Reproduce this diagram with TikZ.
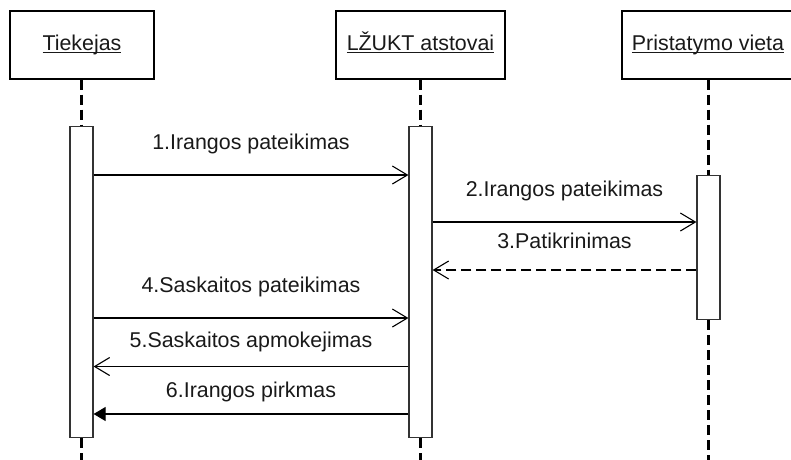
\documentclass[tikz,border=0pt]{standalone}
\usepackage{fontspec}
\setmainfont{Liberation Sans}
\usetikzlibrary{arrows.meta}
% underlined text with a thin rule just below the baseline
\newcommand{\undl}[1]{\setbox0\hbox{#1}\rlap{\rule[-2.4pt]{\wd0}{1.3pt}}\box0}
\begin{document}
\begin{tikzpicture}[x=1pt,y=-1pt,
  font=\fontsize{21.4}{25}\selectfont,
  actor/.style={draw=black,line width=1.2pt,minimum height=68pt,inner sep=0pt,
    text height=15.3pt,text depth=4.5pt,text=black!90},
  activation/.style={draw=black!80,line width=1.2pt,fill=white,minimum width=23pt,inner sep=0pt},
  lifeline/.style={line width=2.6pt,dash pattern=on 10pt off 5pt},
  msg/.style={line width=1.1pt,-{Straight Barb[length=15pt,width=18pt,line width=1.1pt]}},
  reply/.style={msg,dash pattern=on 10pt off 5pt},
  call/.style={line width=1.1pt,-{Triangle[length=12pt,width=14pt]}},
  lbl/.style={anchor=base,inner sep=0pt,text=black!90}]
\useasboundingbox (0,0) rectangle (791,459);
\clip (0,0) rectangle (791,459);

% object headers
\node[actor,minimum width=144pt] (tiek) at (82,45) {\undl{Tiekejas}};
\node[actor,minimum width=169pt] (lzukt) at (420.5,45) {\undl{LŽUKT atstovai}};
\node[actor,minimum width=172pt] (prist) at (708,45) {\undl{Pristatymo vieta}};

% activation bars
\node[activation,minimum height=311pt,anchor=north] (actA) at (81.5,126) {};
\node[activation,minimum height=311pt,anchor=north] (actB) at (420.5,126) {};
\node[activation,minimum height=144pt,anchor=north] (actC) at (708.5,175) {};

% lifelines
\draw[lifeline] (tiek.south -| actA.north) -- (actA.north);
\draw[lifeline] (actA.south) -- ++(0,24);
\draw[lifeline] (lzukt.south -| actB.north) -- (actB.north);
\draw[lifeline] (actB.south) -- ++(0,24);
\draw[lifeline] (prist.south -| actC.north) -- (actC.north);
\draw[lifeline] (actC.south) -- ++(0,142);

% message heights
\coordinate (m1) at (0,175);
\coordinate (m2) at (0,222);
\coordinate (m3) at (0,270);
\coordinate (m4) at (0,318);
\coordinate (m5) at (0,366.5);
\coordinate (m6) at (0,414);

% messages
\draw[msg] (actA.east |- m1) -- node[lbl,above=21pt] (t1) {1.Irangos pateikimas} (actB.west |- m1);
\draw[msg] (actB.east |- m2) -- node[lbl,above=21pt] (t2) {2.Irangos pateikimas} (actC.west |- m2);
\draw[reply] (actC.west |- m3) -- node[lbl,above=21pt] (t3) {3.Patikrinimas} (actB.east |- m3);
\draw[msg] (actA.east |- m4) -- node[lbl,above=21pt] (t4) {4.Saskaitos pateikimas} (actB.west |- m4);
\draw[msg] (actB.west |- m5) -- node[lbl,above=14pt] (t5) {5.Saskaitos apmokejimas} (actA.east |- m5);
\draw[call] (actB.west |- m6) -- node[lbl,above=12pt] (t6) {6.Irangos pirkmas} (actA.east |- m6);
\end{tikzpicture}
\end{document}
